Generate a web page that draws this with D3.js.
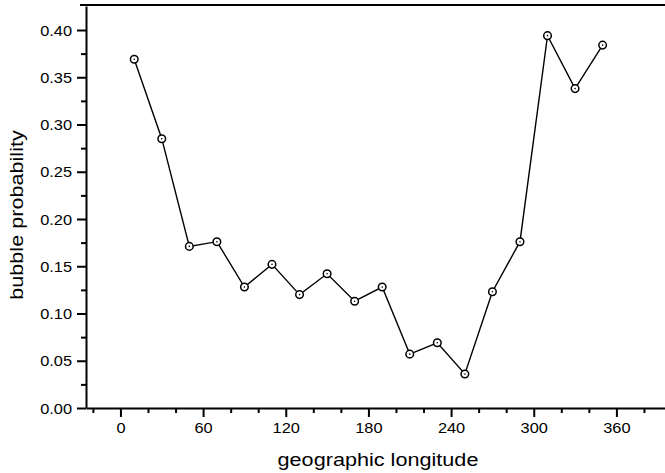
<!DOCTYPE html>
<html>
<head>
<meta charset="utf-8">
<script src="https://cdn.jsdelivr.net/npm/d3@7/dist/d3.min.js"></script>
<style>
  html, body { margin: 0; padding: 0; background: #fff; }
  svg { display: block; }
  text { font-family: "Liberation Sans", Arial, Helvetica, sans-serif; fill: #000; }
</style>
</head>
<body>
<svg id="chart" width="665" height="473"></svg>
<script>
// Bubble probability sampled every 20 degrees of geographic longitude
const longitudes = [10, 30, 50, 70, 90, 110, 130, 150, 170, 190, 210, 230, 250, 270, 290, 310, 330, 350];
const probabilities = [0.369, 0.285, 0.171, 0.176, 0.128, 0.152, 0.120, 0.142, 0.113, 0.128,
                       0.057, 0.069, 0.036, 0.123, 0.176, 0.394, 0.338, 0.384];

const xMajorTicks = [0, 60, 120, 180, 240, 300, 360];
const xMinorTicks = [-20, 20, 40, 80, 100, 140, 160, 200, 220, 260, 280, 320, 340, 380];
const yMajorTicks = [0.00, 0.05, 0.10, 0.15, 0.20, 0.25, 0.30, 0.35, 0.40];
const yMinorTicks = [0.025, 0.075, 0.125, 0.175, 0.225, 0.275, 0.325, 0.375];

const xTitle = "geographic longitude";
const yTitle = "bubble probability";

const svg = d3.select("#chart");
const plotLeft = 86, plotRight = 666, plotTop = 6, plotBottom = 408;
const stretch = 1.17;   // horizontal widening of the lettering

const x = d3.scaleLinear().domain([-25, 396]).range([plotLeft, plotRight]);
const y = d3.scaleLinear().domain([0, 0.4254]).range([plotBottom, plotTop]);

// top frame line
svg.append("line")
  .attr("x1", plotLeft - 6).attr("x2", 665)
  .attr("y1", 5).attr("y2", 5)
  .attr("stroke", "#000").attr("stroke-width", 2);

// x axis: major and minor ticks
const gxMinor = svg.append("g").attr("transform", `translate(0,${plotBottom})`)
  .call(d3.axisBottom(x).tickValues(xMinorTicks).tickSize(5).tickFormat("").tickSizeOuter(0));
gxMinor.select(".domain").remove();
gxMinor.selectAll("line").attr("stroke-width", 2);

const gx = svg.append("g").attr("transform", `translate(0,${plotBottom})`)
  .call(d3.axisBottom(x).tickValues(xMajorTicks).tickSize(9).tickPadding(6)
        .tickFormat(d3.format("d")).tickSizeOuter(0));
gx.select(".domain").attr("stroke-width", 2);
gx.selectAll("line").attr("stroke-width", 2);
gx.selectAll("text")
  .attr("font-size", 14)
  .attr("font-family", "Liberation Sans, Arial, sans-serif")
  .attr("transform", `scale(${stretch},1)`);

// y axis: major and minor ticks
const gyMinor = svg.append("g").attr("transform", `translate(${plotLeft},0)`)
  .call(d3.axisLeft(y).tickValues(yMinorTicks).tickSize(5).tickFormat("").tickSizeOuter(0));
gyMinor.select(".domain").remove();
gyMinor.selectAll("line").attr("stroke-width", 2);

const gy = svg.append("g").attr("transform", `translate(${plotLeft},0)`)
  .call(d3.axisLeft(y).tickValues(yMajorTicks).tickSize(9)
        .tickFormat(d3.format(".2f")).tickSizeOuter(0));
gy.select(".domain").attr("stroke-width", 2);
gy.selectAll("line").attr("stroke-width", 2);
gy.selectAll("text")
  .attr("font-size", 14)
  .attr("font-family", "Liberation Sans, Arial, sans-serif")
  .attr("x", -14 / stretch)
  .attr("dy", "0.36em")
  .attr("transform", `scale(${stretch},1)`);

// axis titles
svg.append("text")
  .attr("transform", `translate(378,466) scale(${stretch},1)`)
  .attr("text-anchor", "middle")
  .attr("font-size", 18.5)
  .text(xTitle);

svg.append("text")
  .attr("transform", `translate(23,215) rotate(-90) scale(${stretch},1)`)
  .attr("text-anchor", "middle")
  .attr("font-size", 18.5)
  .text(yTitle);

// data line
const pts = longitudes.map((lon, i) => ({ lon, p: probabilities[i] }));
svg.append("path")
  .datum(pts)
  .attr("fill", "none")
  .attr("stroke", "#000")
  .attr("stroke-width", 1.4)
  .attr("d", d3.line().x(d => x(d.lon)).y(d => y(d.p)));

// open circle markers with centre dot
const mk = svg.append("g").selectAll("g").data(pts).join("g")
  .attr("transform", d => `translate(${x(d.lon)},${y(d.p)})`);
mk.append("circle").attr("r", 3.8).attr("fill", "#fff").attr("stroke", "#000").attr("stroke-width", 1.5);
mk.append("circle").attr("r", 0.8).attr("fill", "#000");
</script>
</body>
</html>
